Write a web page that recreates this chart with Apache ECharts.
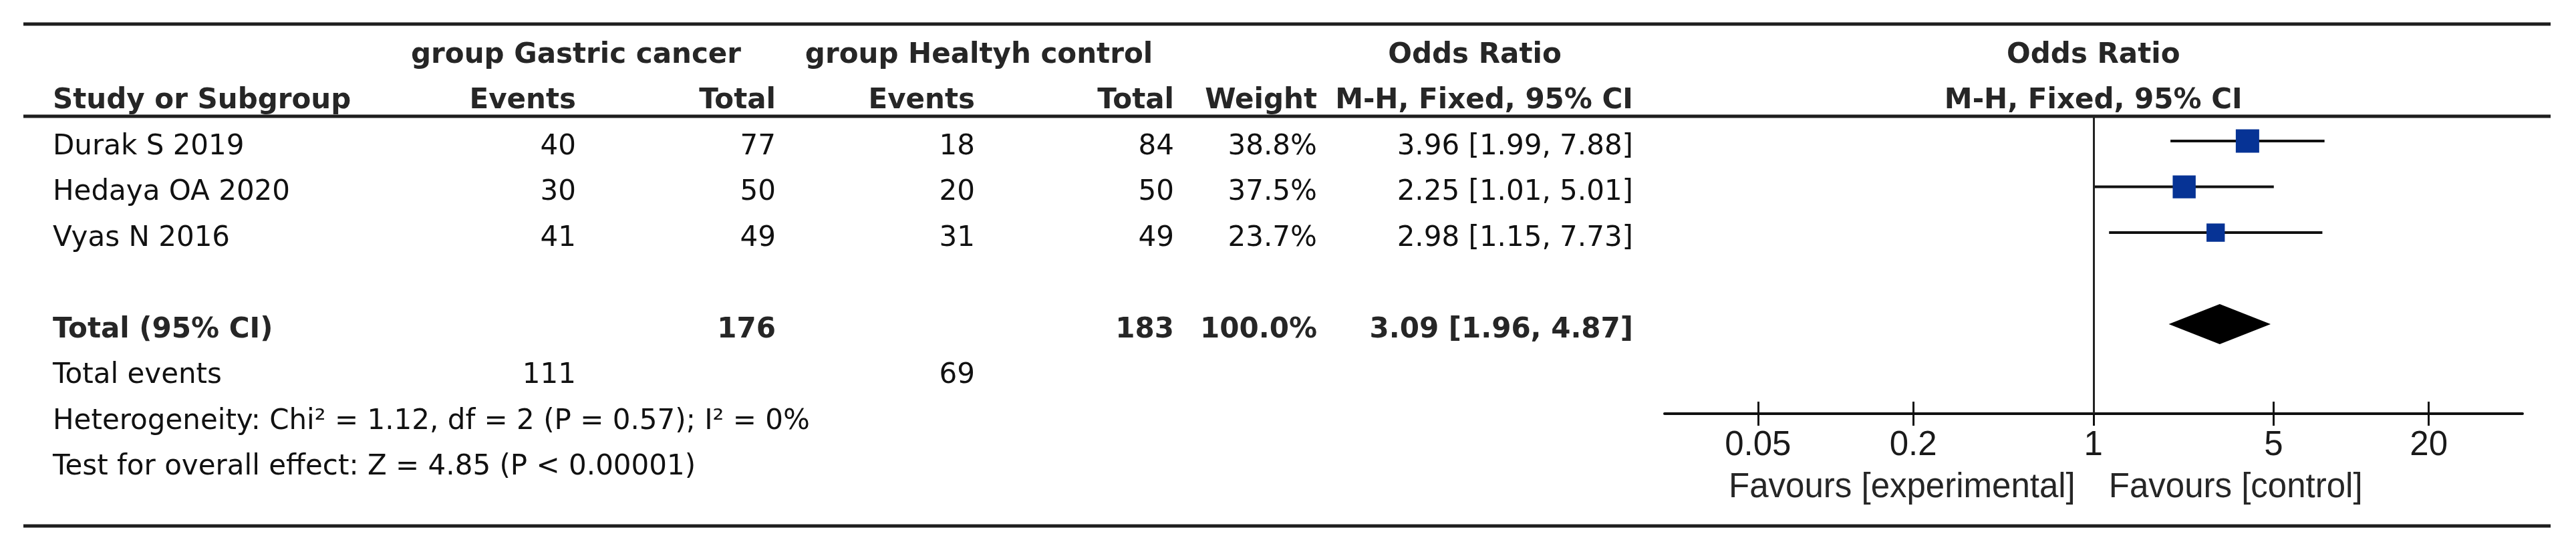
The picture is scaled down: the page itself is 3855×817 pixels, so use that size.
<!DOCTYPE html>
<html>
<head>
<meta charset="utf-8">
<script src="https://cdn.jsdelivr.net/npm/echarts@6/dist/echarts.min.js"></script>
<style>
  html, body { margin: 0; padding: 0; background: #ffffff; }
  #chart { width: 3855px; height: 817px; }
</style>
</head>
<body>
<div id="chart"></div>
<script>
// ---------------- DATA ----------------
const studies   = ['Durak S 2019', 'Hedaya OA 2020', 'Vyas N 2016'];
const eventsGC  = [40, 30, 41];
const totalGC   = [77, 50, 49];
const eventsHC  = [18, 20, 31];
const totalHC   = [84, 50, 49];
const weights   = [38.8, 37.5, 23.7];
const oddsRatio = [3.96, 2.25, 2.98];
const ciLower   = [1.99, 1.01, 1.15];
const ciUpper   = [7.88, 5.01, 7.73];
const pooledOR    = 3.09;
const pooledLower = 1.96;
const pooledUpper = 4.87;
const pooledWeight = 100.0;
const tickValues = [0.05, 0.2, 1, 5, 20];
const tickLabels = ['0.05', '0.2', '1', '5', '20'];
const groupHeaders  = ['group Gastric cancer', 'group Healtyh control', 'Odds Ratio', 'Odds Ratio'];
const columnHeaders = ['Study or Subgroup', 'Events', 'Total', 'Events', 'Total', 'Weight', 'M-H, Fixed, 95% CI', 'M-H, Fixed, 95% CI'];
const totalLabel = 'Total (95% CI)';
const totalEventsLabel = 'Total events';
const heterogeneityText = 'Heterogeneity: Chi\u00b2 = 1.12, df = 2 (P = 0.57); I\u00b2 = 0%';
const overallEffectText = 'Test for overall effect: Z = 4.85 (P < 0.00001)';
const favoursLabels = ['Favours [experimental]', 'Favours [control]'];

// ---------------- LAYOUT / STYLE ----------------
const FONT = '42px "DejaVu Sans"';
const FONT_B = 'bold 42px "DejaVu Sans"';
const FONT_PLOT = '51px "Liberation Sans"';
const TXT = '#111111';
const TXT_H = '#262626';
const COL = { name: 79, ev1: 862, tot1: 1161, ev2: 1459, tot2: 1757, wt: 1971, ci: 2444 };
const GROUP_CENTER = [862, 1465, 2207];
const MARKER_SHIFT = 0.13;      // markers sit slightly above text centre (row units)
const SQUARE_SCALE = 5.62;      // px per sqrt(weight %)
const DIAMOND_HALF = 30;        // px
const ROW = { group: -2, header: -1, total: 4, totalEvents: 5, het: 6, overall: 7, favours: 7.445 };

function fmt2(v) { return v.toFixed(2); }
function ciText(o, l, u) { return fmt2(o) + ' [' + fmt2(l) + ', ' + fmt2(u) + ']'; }
function sum(a) { return a.reduce((s, v) => s + v, 0); }

const cells = [];
function cell(row, x, align, text, font, fill) { cells.push({ row, x, align, text: String(text), font: font || FONT, fill: fill || TXT }); }

cell(ROW.group, GROUP_CENTER[0], 'center', groupHeaders[0], FONT_B, TXT_H);
cell(ROW.group, GROUP_CENTER[1], 'center', groupHeaders[1], FONT_B, TXT_H);
cell(ROW.group, GROUP_CENTER[2], 'center', groupHeaders[2], FONT_B, TXT_H);
cell(ROW.group, 'plot', 'center', groupHeaders[3], FONT_B, TXT_H);
cell(ROW.header, COL.name, 'left', columnHeaders[0], FONT_B, TXT_H);
cell(ROW.header, COL.ev1, 'right', columnHeaders[1], FONT_B, TXT_H);
cell(ROW.header, COL.tot1, 'right', columnHeaders[2], FONT_B, TXT_H);
cell(ROW.header, COL.ev2, 'right', columnHeaders[3], FONT_B, TXT_H);
cell(ROW.header, COL.tot2, 'right', columnHeaders[4], FONT_B, TXT_H);
cell(ROW.header, COL.wt, 'right', columnHeaders[5], FONT_B, TXT_H);
cell(ROW.header, COL.ci, 'right', columnHeaders[6], FONT_B, TXT_H);
cell(ROW.header, 'plot', 'center', columnHeaders[7], FONT_B, TXT_H);

studies.forEach((s, i) => {
  cell(i, COL.name, 'left', s);
  cell(i, COL.ev1, 'right', eventsGC[i]);
  cell(i, COL.tot1, 'right', totalGC[i]);
  cell(i, COL.ev2, 'right', eventsHC[i]);
  cell(i, COL.tot2, 'right', totalHC[i]);
  cell(i, COL.wt, 'right', weights[i].toFixed(1) + '%');
  cell(i, COL.ci, 'right', ciText(oddsRatio[i], ciLower[i], ciUpper[i]));
});
cell(ROW.total, COL.name, 'left', totalLabel, FONT_B, TXT_H);
cell(ROW.total, COL.tot1, 'right', sum(totalGC), FONT_B, TXT_H);
cell(ROW.total, COL.tot2, 'right', sum(totalHC), FONT_B, TXT_H);
cell(ROW.total, COL.wt, 'right', pooledWeight.toFixed(1) + '%', FONT_B, TXT_H);
cell(ROW.total, COL.ci, 'right', ciText(pooledOR, pooledLower, pooledUpper), FONT_B, TXT_H);
cell(ROW.totalEvents, COL.name, 'left', totalEventsLabel);
cell(ROW.totalEvents, COL.ev1, 'right', sum(eventsGC));
cell(ROW.totalEvents, COL.ev2, 'right', sum(eventsHC));
cell(ROW.het, COL.name, 'left', heterogeneityText);
cell(ROW.overall, COL.name, 'left', overallEffectText);
cell(ROW.favours, 'plotL', 'right', favoursLabels[0], FONT_PLOT, '#262626');
cell(ROW.favours, 'plotR', 'left', favoursLabels[1], FONT_PLOT, '#262626');

const studyData = studies.map((s, i) => [ciLower[i], ciUpper[i], oddsRatio[i], weights[i], i - MARKER_SHIFT]);
const pooledData = [[pooledLower, pooledUpper, pooledOR, pooledWeight, ROW.total - MARKER_SHIFT]];

const chart = echarts.init(document.getElementById('chart'), null, { renderer: 'canvas' });

const axisCommon = { type: 'log', min: 0.0217, max: 46.2, gridIndex: 0, position: 'bottom', offset: 0, splitLine: { show: false }, minorTick: { show: false } };

const option = {
  backgroundColor: '#ffffff',
  animation: false,
  grid: { left: 2491, right: 80, top: 174, bottom: 198, containLabel: false },
  xAxis: [
    Object.assign({}, axisCommon, {
      axisLine: { show: true, onZero: false, lineStyle: { color: '#111', width: 4 } },
      axisTick: { show: true, customValues: tickValues, length: 18, inside: false, lineStyle: { color: '#111', width: 3 } },
      axisLabel: { show: true, customValues: tickValues, margin: 22, color: '#1a1a1a', fontSize: 51, fontFamily: 'Liberation Sans',
        formatter: (v) => { const k = tickValues.findIndex(t => Math.abs(t - v) < 1e-9); return k >= 0 ? tickLabels[k] : ''; } }
    }),
    Object.assign({}, axisCommon, {
      axisLine: { show: false, onZero: false },
      axisTick: { show: true, customValues: tickValues, length: 18, inside: true, lineStyle: { color: '#111', width: 3 } },
      axisLabel: { show: false }
    })
  ],
  yAxis: { type: 'value', min: -0.6715, max: 5.8248, inverse: true, show: false, splitLine: { show: false } },
  graphic: [
    { type: 'line', shape: { x1: 35, y1: 36, x2: 3817, y2: 36 }, style: { stroke: '#1e1e1e', lineWidth: 5 } },
    { type: 'line', shape: { x1: 35, y1: 174, x2: 3817, y2: 174 }, style: { stroke: '#1e1e1e', lineWidth: 5 } },
    { type: 'line', shape: { x1: 35, y1: 787, x2: 3817, y2: 787 }, style: { stroke: '#1e1e1e', lineWidth: 5 } }
  ],
  series: [
    {
      name: 'studies', type: 'custom', xAxisIndex: 0, yAxisIndex: 0, clip: false,
      encode: { x: [0, 1, 2], y: 4 },
      data: studyData,
      renderItem: function (params, api) {
        const y = api.value(4);
        const p1 = api.coord([api.value(0), y]);
        const p2 = api.coord([api.value(1), y]);
        const c = api.coord([api.value(2), y]);
        const s = SQUARE_SCALE * Math.sqrt(api.value(3));
        return { type: 'group', children: [
          { type: 'line', shape: { x1: p1[0], y1: p1[1], x2: p2[0], y2: p2[1] }, style: { stroke: '#111', lineWidth: 4 } },
          { type: 'rect', shape: { x: c[0] - s / 2, y: c[1] - s / 2, width: s, height: s }, style: { fill: '#063395' } }
        ] };
      },
      markLine: {
        silent: true, symbol: ['none', 'none'], label: { show: false },
        lineStyle: { color: '#222', width: 3, type: 'solid' },
        data: [{ xAxis: 1 }]
      }
    },
    {
      name: 'pooled', type: 'custom', xAxisIndex: 0, yAxisIndex: 0, clip: false,
      encode: { x: [0, 1, 2], y: 4 },
      data: pooledData,
      renderItem: function (params, api) {
        const y = api.value(4);
        const l = api.coord([api.value(0), y]);
        const r = api.coord([api.value(1), y]);
        const c = api.coord([api.value(2), y]);
        return { type: 'polygon', shape: { points: [[l[0], l[1]], [c[0], c[1] - DIAMOND_HALF], [r[0], r[1]], [c[0], c[1] + DIAMOND_HALF]] },
          style: { fill: '#000' } };
      }
    },
    {
      name: 'table', type: 'custom', xAxisIndex: 0, yAxisIndex: 0, clip: false, silent: true,
      encode: { x: 0, y: 1 },
      data: cells.map(c => [1, c.row]),
      renderItem: function (params, api) {
        const c = cells[params.dataIndex];
        const p = api.coord([1, api.value(1)]);
        let x = c.x;
        if (x === 'plot') x = p[0];
        else if (x === 'plotL') x = p[0] - 27;
        else if (x === 'plotR') x = p[0] + 23;
        return { type: 'text', x: x, y: p[1], style: { text: c.text, font: c.font, fill: c.fill, align: c.align, verticalAlign: 'middle' } };
      }
    }
  ]
};
chart.setOption(option);
</script>
</body>
</html>
